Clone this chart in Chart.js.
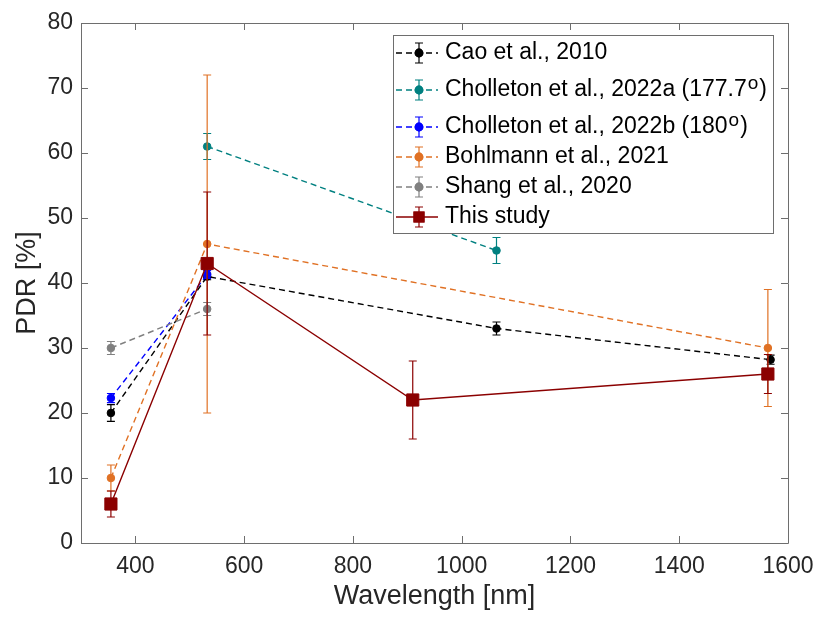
<!DOCTYPE html>
<html>
<head>
<meta charset="utf-8">
<script src="https://cdn.jsdelivr.net/npm/chart.js@4.4.0/dist/chart.umd.min.js"></script>
<style>
  body { margin: 0; background: #fff; }
</style>
</head>
<body>
<canvas id="pdrChart" width="816" height="619"></canvas>
<script>
// wavelengths [nm], PDR [%] and +/- uncertainty for each source
const caoX = [355, 532, 1064, 1568];
const caoY = [20, 41, 33, 28.2];
const caoErr = [1.3, 0.5, 1, 0.7];

const chollAX = [532, 1064];
const chollAY = [61, 45];
const chollAErr = [2, 2];

const chollBX = [355, 532];
const chollBY = [22.3, 41.3];
const chollBErr = [0.7, 0.6];

const bohlX = [355, 532, 1563];
const bohlY = [10, 46, 30];
const bohlErr = [2, 26, 9];

const shangX = [355, 532];
const shangY = [30, 36];
const shangErr = [1, 1];

const studyX = [355, 532, 910, 1563];
const studyY = [6, 43, 22, 26];
const studyErr = [2, 11, 6, 3];

const xTicks = [400, 600, 800, 1000, 1200, 1400, 1600];
const yTicks = [0, 10, 20, 30, 40, 50, 60, 70, 80];

const FONT = "'Liberation Sans', Arial, Helvetica, sans-serif";
const AXIS_COLOR = "#6e6e6e";
const TEXT_COLOR = "#262626";

// "^o" in a label is drawn as a raised small o (degree sign)
const series = [
  { label: "Cao et al., 2010", x: caoX, y: caoY, err: caoErr, color: "#000000", dashed: true, marker: "circle" },
  { label: "Cholleton et al., 2022a (177.7^o)", x: chollAX, y: chollAY, err: chollAErr, color: "#008080", dashed: true, marker: "circle" },
  { label: "Cholleton et al., 2022b (180^o)", x: chollBX, y: chollBY, err: chollBErr, color: "#0000ff", dashed: true, marker: "circle" },
  { label: "Bohlmann et al., 2021", x: bohlX, y: bohlY, err: bohlErr, color: "#e07124", dashed: true, marker: "circle" },
  { label: "Shang et al., 2020", x: shangX, y: shangY, err: shangErr, color: "#808080", dashed: true, marker: "circle" },
  { label: "This study", x: studyX, y: studyY, err: studyErr, color: "#8b0000", dashed: false, marker: "rect" },
];

const DASH = [6, 4];
const CAP = 4;

const datasets = series.map((s, i) => ({
  label: s.label,
  data: s.x.map((x, k) => ({ x: x, y: s.y[k] })),
  errorBars: s.err,
  borderColor: s.color,
  backgroundColor: s.color,
  borderWidth: 1.4,
  borderDash: s.dashed ? DASH : [],
  showLine: true,
  pointStyle: s.marker,
  pointRadius: s.marker === "rect" ? 8.6 : 3.8,
  pointBorderWidth: 1,
  order: series.length - i, // later series on top
}));

// vertical error bars with caps, drawn just before each dataset's line
const errorBarPlugin = {
  id: "errorBars",
  beforeDatasetDraw(chart, args) {
    const ds = chart.data.datasets[args.index];
    if (!ds.errorBars) return;
    const xs = chart.scales.x, ys = chart.scales.y;
    const ctx = chart.ctx;
    ctx.save();
    ctx.strokeStyle = ds.borderColor;
    ctx.lineWidth = 1.2;
    ds.data.forEach((p, k) => {
      const e = ds.errorBars[k];
      const px = xs.getPixelForValue(p.x);
      const top = ys.getPixelForValue(p.y + e);
      const bot = ys.getPixelForValue(p.y - e);
      ctx.beginPath();
      ctx.moveTo(px, top); ctx.lineTo(px, bot);
      ctx.moveTo(px - CAP, top); ctx.lineTo(px + CAP, top);
      ctx.moveTo(px - CAP, bot); ctx.lineTo(px + CAP, bot);
      ctx.stroke();
    });
    ctx.restore();
  }
};

// box around the axes with inward ticks on all four sides
const framePlugin = {
  id: "frame",
  afterDatasetsDraw(chart) {
    const { ctx, chartArea: a } = chart;
    const xs = chart.scales.x, ys = chart.scales.y;
    const TL = 7;
    ctx.save();
    ctx.strokeStyle = AXIS_COLOR;
    ctx.lineWidth = 1;
    ctx.beginPath();
    ctx.rect(Math.round(a.left) + 0.5, Math.round(a.top) + 0.5,
             Math.round(a.right - a.left), Math.round(a.bottom - a.top));
    xTicks.forEach(v => {
      const px = Math.round(xs.getPixelForValue(v)) + 0.5;
      ctx.moveTo(px, a.bottom); ctx.lineTo(px, a.bottom - TL);
      ctx.moveTo(px, a.top); ctx.lineTo(px, a.top + TL);
    });
    yTicks.forEach(v => {
      const py = Math.round(ys.getPixelForValue(v)) + 0.5;
      ctx.moveTo(a.left, py); ctx.lineTo(a.left + TL, py);
      ctx.moveTo(a.right, py); ctx.lineTo(a.right - TL, py);
    });
    ctx.stroke();
    ctx.restore();
  }
};

// legend box with line, marker and error bar symbol per series
const legendPlugin = {
  id: "errLegend",
  afterDraw(chart) {
    const ctx = chart.ctx;
    const box = { left: 393, top: 35, right: 773, bottom: 233 };
    ctx.save();
    ctx.fillStyle = "#ffffff";
    ctx.fillRect(box.left, box.top, box.right - box.left, box.bottom - box.top);
    ctx.strokeStyle = AXIS_COLOR;
    ctx.lineWidth = 1;
    ctx.strokeRect(box.left + 0.5, box.top + 0.5, box.right - box.left, box.bottom - box.top);

    let y = 53;
    series.forEach((s, i) => {
      if (i > 0 && s.label.includes("^")) y += 7;
      // symbol
      ctx.strokeStyle = s.color;
      ctx.fillStyle = s.color;
      ctx.lineWidth = 1.4;
      ctx.setLineDash(s.dashed ? DASH : []);
      ctx.beginPath();
      ctx.moveTo(396, y); ctx.lineTo(438, y);
      ctx.stroke();
      ctx.setLineDash([]);
      ctx.lineWidth = 1.2;
      ctx.beginPath();
      ctx.moveTo(419, y - 10); ctx.lineTo(419, y + 10);
      ctx.moveTo(419 - CAP, y - 10); ctx.lineTo(419 + CAP, y - 10);
      ctx.moveTo(419 - CAP, y + 10); ctx.lineTo(419 + CAP, y + 10);
      ctx.stroke();
      Chart.helpers.drawPoint(ctx, {
        pointStyle: s.marker,
        radius: s.marker === "rect" ? 7 : 3.8,
        borderWidth: 1,
      }, 419, y);
      ctx.fill();
      ctx.stroke();

      // text, with optional superscript
      ctx.fillStyle = "#000000";
      ctx.textBaseline = "middle";
      ctx.textAlign = "left";
      ctx.font = "23px " + FONT;
      const parts = s.label.split("^");
      let tx = 445;
      ctx.fillText(parts[0], tx, y);
      if (parts.length > 1) {
        tx += ctx.measureText(parts[0]).width;
        const sup = parts[1].charAt(0);
        const tail = parts[1].slice(1);
        ctx.font = "19px " + FONT;
        ctx.textBaseline = "alphabetic";
        ctx.fillText(sup, tx + 1, y - 1);
        tx += ctx.measureText(sup).width + 2;
        ctx.font = "23px " + FONT;
        ctx.textBaseline = "middle";
        ctx.fillText(tail, tx, y);
      }
      y += 30;
    });
    ctx.restore();
  }
};

new Chart(document.getElementById("pdrChart"), {
  type: "scatter",
  data: { datasets: datasets },
  options: {
    responsive: false,
    animation: false,
    events: [],
    layout: { padding: { top: 23, right: 28, left: 0, bottom: 0 } },
    plugins: {
      legend: { display: false },
      tooltip: { enabled: false },
    },
    scales: {
      x: {
        type: "linear",
        min: 300,
        max: 1600,
        afterBuildTicks: s => { s.ticks = xTicks.map(v => ({ value: v })); },
        afterFit: s => {
          s.height = 76;
          // end labels may overhang; the layout padding already leaves room
          s.paddingLeft = 0;
          s.paddingRight = 0;
        },
        grid: { display: false, drawTicks: false },
        border: { display: false },
        ticks: {
          color: TEXT_COLOR,
          font: { family: FONT, size: 23 },
          padding: 10,
          maxRotation: 0,
          callback: v => String(v),
        },
        title: {
          display: true,
          text: "Wavelength [nm]",
          color: TEXT_COLOR,
          font: { family: FONT, size: 27 },
          padding: { top: 0, bottom: 6 },
        },
      },
      y: {
        type: "linear",
        min: 0,
        max: 80,
        afterBuildTicks: s => { s.ticks = yTicks.map(v => ({ value: v })); },
        afterFit: s => { s.width = 81; },
        grid: { display: false, drawTicks: false },
        border: { display: false },
        ticks: {
          color: TEXT_COLOR,
          font: { family: FONT, size: 23 },
          padding: 8,
          callback: v => String(v),
        },
        title: {
          display: true,
          text: "PDR [%]",
          color: TEXT_COLOR,
          font: { family: FONT, size: 27 },
          padding: { top: 11, bottom: 0 },
        },
      },
    },
  },
  plugins: [errorBarPlugin, framePlugin, legendPlugin],
});
</script>
</body>
</html>
